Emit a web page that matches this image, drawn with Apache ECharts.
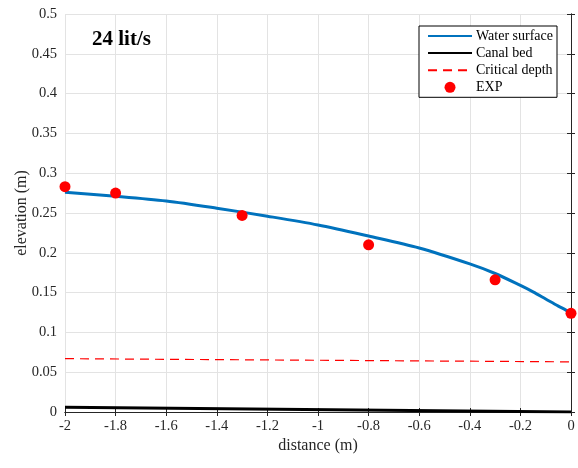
<!DOCTYPE html>
<html><head><meta charset="utf-8">
<script src="https://cdn.jsdelivr.net/npm/echarts@6/dist/echarts.min.js"></script>
<style>html,body{margin:0;padding:0;background:#fff}#c{width:578px;height:468px}</style>
</head><body><div id="c"></div>
<script>
const waterX = [-2, -1.8, -1.6, -1.4, -1.2, -1.0, -0.8, -0.6, -0.4, -0.3, -0.2, -0.15, -0.1, -0.05, -0.02, 0];
const waterY = [0.276, 0.271, 0.265, 0.256, 0.246, 0.235, 0.221, 0.206, 0.186, 0.174, 0.159, 0.151, 0.142, 0.133, 0.128, 0.124];
const bedX = [-2, 0];
const bedY = [0.006, 0.0];
const critX = [-2, 0];
const critY = [0.067, 0.063];
const expX = [-2, -1.8, -1.3, -0.8, -0.3, 0];
const expY = [0.283, 0.275, 0.247, 0.210, 0.166, 0.124];
const titleText = '24 lit/s';

const zip = (a, b) => a.map((v, i) => [v, b[i]]);
const font = 'Liberation Serif, Times New Roman, serif';
const txt = '#262626';
const chart = echarts.init(document.getElementById('c'));
const common = {
  axisLine: {show: true, lineStyle: {color: txt, width: 1}},
  axisTick: {show: true, inside: true, length: 4, lineStyle: {color: txt}},
};
chart.setOption({
  animation: false,
  grid: {left: 65, right: 7, top: 14, bottom: 56, containLabel: false, outerBoundsMode: 'none'},
  xAxis: [
    Object.assign({type: 'value', min: -2, max: 0, interval: 0.2, position: 'bottom',
      name: 'distance (m)', nameLocation: 'middle', nameGap: 26, nameMoveOverlap: false,
      nameTextStyle: {fontFamily: font, fontSize: 16, color: txt},
      axisLabel: {fontFamily: font, fontSize: 14.5, color: txt, margin: 7,
        formatter: v => String(Math.round(v * 10) / 10)},
      splitLine: {show: true, lineStyle: {color: '#e3e3e3', width: 1}}}, common),
    Object.assign({type: 'value', min: -2, max: 0, interval: 0.2, position: 'top',
      axisLabel: {show: false}, splitLine: {show: false}}, common)
  ],
  yAxis: [
    Object.assign({type: 'value', min: 0, max: 0.5, interval: 0.05, position: 'left',
      name: 'elevation (m)', nameLocation: 'middle', nameGap: 35, nameRotate: 90, nameMoveOverlap: false,
      nameTextStyle: {fontFamily: font, fontSize: 16, color: txt},
      axisLabel: {fontFamily: font, fontSize: 14.5, color: txt, margin: 8,
        formatter: v => String(Math.round(v * 100) / 100)},
      splitLine: {show: true, lineStyle: {color: '#e3e3e3', width: 1}}}, common),
    Object.assign({type: 'value', min: 0, max: 0.5, interval: 0.05, position: 'right',
      axisLabel: {show: false}, splitLine: {show: false}}, common)
  ],
  legend: {
    orient: 'vertical', right: 21, top: 26,
    backgroundColor: '#fff', borderColor: '#000', borderWidth: 1, borderRadius: 0,
    padding: [3, 4, 3, 8], itemGap: 3.1, itemWidth: 44, itemHeight: 11,
    textStyle: {fontFamily: font, fontSize: 14, lineHeight: 13, color: '#000', padding: [0, 0, 0, -1]},
    data: [
      {name: 'Water surface', itemStyle: {opacity: 0}},
      {name: 'Canal bed', itemStyle: {opacity: 0}},
      {name: 'Critical depth', itemStyle: {opacity: 0}},
      {name: 'EXP', itemStyle: {opacity: 1}}
    ]
  },
  graphic: [{type: 'text', left: 92, top: 29,
    style: {text: titleText, font: 'bold 21px ' + font, fill: '#000'}}],
  series: [
    {name: 'Water surface', type: 'line', data: zip(waterX, waterY), smooth: 0.3,
      symbol: 'none', lineStyle: {color: '#0072BD', width: 3}, itemStyle: {color: '#0072BD'}, z: 3},
    {name: 'Canal bed', type: 'line', data: zip(bedX, bedY),
      symbol: 'none', lineStyle: {color: '#000', width: 3}, itemStyle: {color: '#000'}, z: 3},
    {name: 'Critical depth', type: 'line', data: zip(critX, critY),
      symbol: 'none', lineStyle: {color: '#FF0000', width: 1.2, type: [9, 6]}, itemStyle: {color: '#FF0000'}, z: 3},
    {name: 'EXP', type: 'scatter', data: zip(expX, expY), symbol: 'circle', symbolSize: 11,
      itemStyle: {color: '#FF0000', opacity: 1}, z: 4}
  ]
});
</script></body></html>
